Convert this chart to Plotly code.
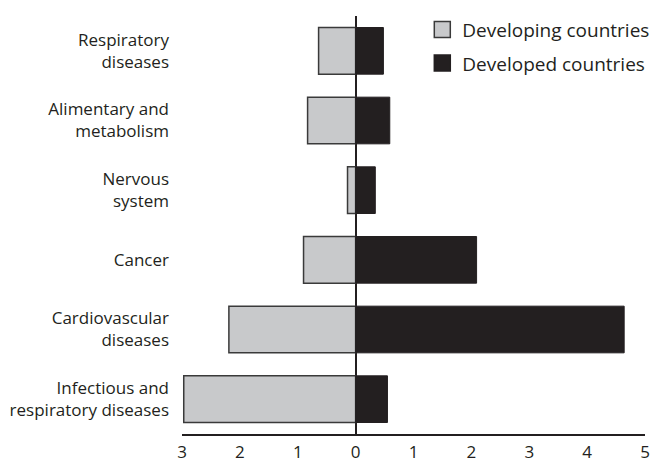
import plotly.graph_objects as go

categories = ["Infectious and<br>respiratory diseases", "Cardiovascular<br>diseases", "Cancer",
              "Nervous<br>system", "Alimentary and<br>metabolism", "Respiratory<br>diseases"]
developing = [2.97, 2.19, 0.90, 0.14, 0.83, 0.64]
developed = [0.55, 4.64, 2.09, 0.34, 0.59, 0.48]
series_names = ["Developing countries", "Developed countries"]
x_tickvals = [-3, -2, -1, 0, 1, 2, 3, 4, 5]
x_ticktext = ["3", "2", "1", "0", "1", "2", "3", "4", "5"]

ink = "#231f20"
light = "#c8c9cb"
edge = "#3a3a3a"

fig = go.Figure()
fig.add_trace(go.Bar(
    y=categories, x=[-v for v in developing], orientation="h", name=series_names[0],
    marker=dict(color=light, line=dict(color=edge, width=1.5)), width=0.67, showlegend=False,
))
fig.add_trace(go.Bar(
    y=categories, x=developed, orientation="h", name=series_names[1],
    marker=dict(color=ink, line=dict(color=ink, width=1)), width=0.67, showlegend=False,
))
# legend entries with larger square swatches
for name, fill, line in [(series_names[0], light, edge), (series_names[1], ink, ink)]:
    fig.add_trace(go.Scatter(
        x=[None], y=[None], mode="markers", name=name, legendgroup=name,
        marker=dict(symbol="square", size=18, color=fill, line=dict(color=line, width=1.5)),
    ))

fig.update_layout(
    width=655, height=463, barmode="relative",
    margin=dict(l=182, r=10, t=16, b=29, autoexpand=False),
    plot_bgcolor="white", paper_bgcolor="white",
    font=dict(family="Open Sans", size=17, color=ink),
    showlegend=True,
    legend=dict(x=0.519, y=1.013, xanchor="left", yanchor="top", font=dict(size=19),
                traceorder="grouped", itemwidth=30, tracegroupgap=6, bgcolor="rgba(0,0,0,0)"),
    xaxis=dict(range=[-3, 5], tickvals=x_tickvals, ticktext=x_ticktext, showgrid=False,
               zeroline=True, zerolinecolor=ink, zerolinewidth=1.5, automargin=False,
               showline=True, linecolor=ink, linewidth=1.5, ticks="", ticklabelstandoff=2,
               tickfont=dict(size=17)),
    yaxis=dict(categoryorder="array", categoryarray=categories, range=[-0.5, 5.5],
               showgrid=False, showline=False, ticks="", ticklabelstandoff=12, automargin=False,
               tickfont=dict(size=17)),
)
# remove the default page margin so the 655x463 figure fills the window exactly
fig.write_html("out.html", config={"displayModeBar": False},
               post_script="document.body.style.margin='0';")
